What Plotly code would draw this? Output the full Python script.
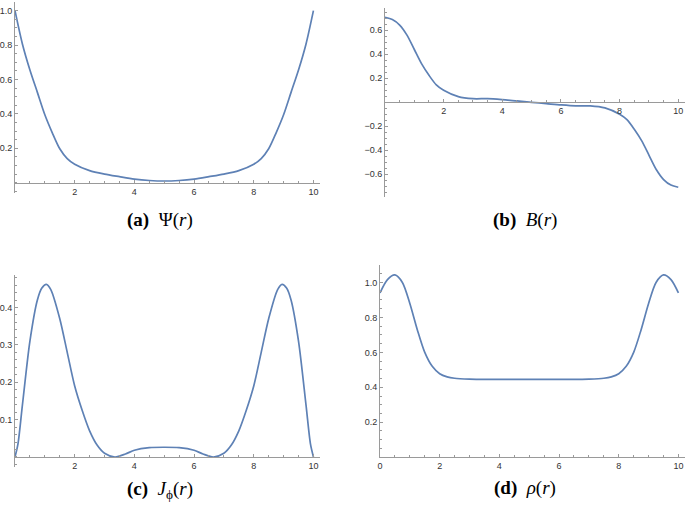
import plotly.graph_objects as go

# sample radii
r = [0, 0.25, 0.5, 0.75, 1, 1.25, 1.5, 1.75, 2, 2.5, 3, 3.5, 4, 4.5, 5,
     5.5, 6, 6.5, 7, 7.5, 8, 8.25, 8.5, 8.75, 9, 9.25, 9.5, 9.75, 10]

psi = [1.0, 0.805, 0.655, 0.525, 0.395, 0.29, 0.197, 0.14, 0.107, 0.07, 0.05, 0.035, 0.021, 0.013, 0.01,
       0.013, 0.021, 0.035, 0.05, 0.07, 0.107, 0.14, 0.197, 0.29, 0.395, 0.525, 0.655, 0.805, 1.0]

b_field = [0.708, 0.69, 0.644, 0.56, 0.44, 0.32, 0.225, 0.145, 0.10, 0.047, 0.03, 0.03, 0.022, 0.011, 0.0,
           -0.011, -0.022, -0.03, -0.03, -0.047, -0.10, -0.145, -0.225, -0.32, -0.44, -0.56, -0.644, -0.69, -0.708]

r_j = [0, 0.1, 0.25, 0.5, 0.75, 0.9, 1.05, 1.2, 1.5, 1.75, 2, 2.25, 2.5, 2.75, 3, 3.35, 3.7, 4, 4.5, 5,
       5.5, 6, 6.3, 6.65, 7, 7.25, 7.5, 7.75, 8, 8.25, 8.5, 8.8, 8.95, 9.1, 9.25, 9.5, 9.75, 9.9, 10]

j_phi = [0.0, 0.035, 0.14, 0.31, 0.42, 0.452, 0.462, 0.448, 0.37, 0.28, 0.19, 0.125, 0.07, 0.032, 0.01, 0.0, 0.008, 0.018, 0.025, 0.026,
         0.025, 0.018, 0.008, 0.0, 0.01, 0.032, 0.07, 0.125, 0.19, 0.28, 0.37, 0.448, 0.462, 0.452, 0.42, 0.31, 0.14, 0.035, 0.0]

r_rho = [0, 0.25, 0.5, 0.75, 1, 1.25, 1.5, 1.75, 2, 2.25, 2.5, 3, 3.5, 4, 5,
         6, 6.5, 7, 7.5, 7.75, 8, 8.25, 8.5, 8.75, 9, 9.25, 9.5, 9.75, 10]

rho = [0.94, 1.016, 1.043, 1.0, 0.88, 0.73, 0.60, 0.52, 0.478, 0.46, 0.452, 0.447, 0.445, 0.445, 0.445,
       0.445, 0.445, 0.447, 0.452, 0.46, 0.478, 0.52, 0.60, 0.73, 0.88, 1.0, 1.043, 1.016, 0.94]

x_ticks = [2, 4, 6, 8, 10]
x_ticks_d = [0, 2, 4, 6, 8, 10]
y_ticks_a = [0.2, 0.4, 0.6, 0.8, 1.0]
y_ticks_b = [-0.6, -0.4, -0.2, 0.2, 0.4, 0.6]
y_ticks_c = [0.1, 0.2, 0.3, 0.4]
y_ticks_d = [0.2, 0.4, 0.6, 0.8, 1.0]

captions = ["<b>(a)</b>  Ψ(<i>r</i>)", "<b>(b)</b>  <i>B</i>(<i>r</i>)",
            "<b>(c)</b>  <i>J</i><sub>ϕ</sub>(<i>r</i>)", "<b>(d)</b>  <i>ρ</i>(<i>r</i>)"]

W, H = 685, 508
LINE = "#5E81B5"
AXIS = "#9a9a9a"
TICKFONT = dict(family="Liberation Sans, Arial, sans-serif", size=9, color="#333")


def xdom(p0, p1):
    return [p0 / W, p1 / W]


def ydom(top, bot):
    return [1 - bot / H, 1 - top / H]


def label(v, fmt):
    return (fmt % v).replace("-", "\u2212")


def xaxis(dom, rng, ticks, pos=None):
    ax = dict(domain=dom, range=rng, tickmode="array", tickvals=ticks,
              ticktext=[label(t, "%g") for t in ticks],
              showline=True, linecolor=AXIS, linewidth=1, ticks="inside",
              ticklen=3, tickcolor=AXIS, showgrid=False, zeroline=False,
              tickfont=TICKFONT, fixedrange=True, automargin=False,
              minor=dict(tickmode="linear", tick0=0, dtick=0.5, ticks="inside",
                         ticklen=2, tickcolor=AXIS, showgrid=False))
    if pos is not None:
        ax["anchor"] = "free"
        ax["position"] = pos
    return ax


def yaxis(dom, rng, ticks, minor, anchor):
    return dict(domain=dom, range=rng, tickmode="array", tickvals=ticks,
                ticktext=[label(t, "%.1f") for t in ticks], anchor=anchor,
                showline=True, linecolor=AXIS, linewidth=1, ticks="inside",
                ticklen=3, tickcolor=AXIS, showgrid=False, zeroline=False,
                tickfont=TICKFONT, fixedrange=True, automargin=False,
                minor=dict(tickmode="linear", tick0=0, dtick=minor, ticks="inside",
                           ticklen=2, tickcolor=AXIS, showgrid=False))


fig = go.Figure()
xs = [r, r, r_j, r_rho]
series = [psi, b_field, j_phi, rho]
for i, ys in enumerate(series):
    sfx = "" if i == 0 else str(i + 1)
    fig.add_trace(go.Scatter(x=xs[i], y=ys, mode="lines",
                             line=dict(color=LINE, width=1.7, shape="spline", smoothing=0.8),
                             xaxis="x" + sfx, yaxis="y" + sfx, showlegend=False,
                             cliponaxis=False, hoverinfo="skip"))

xa4 = xaxis(xdom(380, 685), [0, 10.22], x_ticks_d)
xa4["anchor"] = "y4"
fig.update_layout(
    width=W, height=H, margin=dict(l=0, r=0, t=0, b=0, pad=0), autosize=False,
    paper_bgcolor="white", plot_bgcolor="white",
    xaxis=xaxis(xdom(15, 320), [0, 10.22], x_ticks, pos=1 - 182.7 / H),
    yaxis=yaxis(ydom(2, 192.7), [-0.058, 1.05], y_ticks_a, 0.05, "x"),
    xaxis2=xaxis(xdom(385, 685), [0, 10.23], x_ticks, pos=1 - 102.3 / H),
    yaxis2=yaxis(ydom(8, 196.7), [-0.787, 0.786], y_ticks_b, 0.05, "x2"),
    xaxis3=xaxis(xdom(15, 320), [0, 10.22], x_ticks, pos=1 - 457 / H),
    yaxis3=yaxis(ydom(275, 466.7), [-0.026, 0.487], y_ticks_c, 0.02, "x3"),
    xaxis4=xa4,
    yaxis4=yaxis(ydom(265, 457.2), [0, 1.10], y_ticks_d, 0.05, "x4"),
)

cap_pos = [(160, 220), (525, 220), (160, 490), (525, 488)]
for text, (cx, cy) in zip(captions, cap_pos):
    fig.add_annotation(x=cx / W, y=1 - cy / H, xref="paper", yref="paper",
                       xanchor="center", yanchor="middle",
                       text=text, showarrow=False,
                       font=dict(family="Liberation Serif, DejaVu Serif, serif",
                                 size=19, color="black"))

# the page body has a default 8px margin; drop it so the figure fills the window
fig.write_html("out.html", config={"displayModeBar": False},
               post_script="document.body.style.margin='0';")
